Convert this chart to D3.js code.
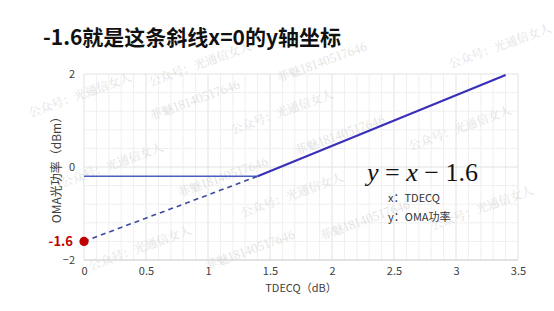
<!DOCTYPE html>
<html><head><meta charset="utf-8">
<script src="https://cdn.jsdelivr.net/npm/d3@7"></script>
<style>
html,body{margin:0;padding:0;background:#fff;}
svg{display:block;}
</style></head>
<body>
<svg id="chart" width="554" height="311"></svg>
<script>
// ---- data ----
const titleText = "-1.6就是这条斜线x=0的y轴坐标";
const xTicks = [0, 0.5, 1, 1.5, 2, 2.5, 3, 3.5];
const yTicks = [-2, 0, 2];
const flatLine = [[0, -0.2], [1.4, -0.2]];
const dashedLine = [[0, -1.6], [1.4, -0.2]];
const slopeLine = [[1.4, -0.2], [3.4, 1.98]];
const interceptPoint = [0, -1.6];
const interceptLabel = "-1.6";
const xLabel = "TDECQ（dB）";
const yLabel = "OMA光功率（dBm）";
const noteLines = ["x：TDECQ", "y：OMA功率"];
const watermarks = [
  ["公众号：光通信女人", 200, 64], ["菲魅18140517646", 322, 62], ["公众号：光通信女人", 500, 46],
  ["公众号：光通信女人", 80, 95], ["菲魅18140517646", 195, 100], ["公众号：光通信女人", 282, 112],
  ["菲魅18140517646", 340, 135], ["公众号：光通信女人", 460, 128], ["公众号：光通信女人", 112, 165],
  ["菲魅18140517646", 223, 177], ["公众号：光通信女人", 292, 195], ["菲魅18140517646", 365, 220],
  ["公众号：光通信女人", 482, 208], ["公众号：光通信女人", 140, 248], ["菲魅18140517646", 250, 250]
];

const svg = d3.select("#chart");
const x = d3.scaleLinear().domain([0, 3.5]).range([84, 518]);
const y = d3.scaleLinear().domain([-2, 2]).range([260, 74]);
const font = "'Noto Sans CJK SC','Noto Sans',sans-serif";

// grid
const g = svg.append("g");
const xMinor = d3.range(0, 36).map(i => i / 10).filter(v => v <= 3.5 + 1e-9);
const yMinor = d3.range(0, 11).map(i => -2 + i * 0.4);
g.selectAll(".vx").data(xMinor).join("line")
  .attr("x1", d => x(d)).attr("x2", d => x(d)).attr("y1", y(-2)).attr("y2", y(2))
  .attr("stroke", d => (Math.abs(d * 2 - Math.round(d * 2)) < 1e-6) ? "#e2e2e2" : "#efefef").attr("stroke-width", 1);
g.selectAll(".hy").data(yMinor).join("line")
  .attr("y1", d => y(d)).attr("y2", d => y(d)).attr("x1", x(0)).attr("x2", x(3.5))
  .attr("stroke", d => (Math.abs(d / 2 - Math.round(d / 2)) < 1e-6) ? "#e2e2e2" : "#efefef").attr("stroke-width", 1);
g.append("line").attr("x1", x(0)).attr("x2", x(3.5)).attr("y1", y(-2)).attr("y2", y(-2)).attr("stroke", "#d4d4d4");

// watermarks
svg.append("g").selectAll("text").data(watermarks).join("text")
  .attr("transform", d => `translate(${d[1]},${d[2]}) rotate(-20)`)
  .attr("text-anchor", "middle").attr("dy", "0.35em")
  .attr("font-family", "'Noto Serif CJK SC','Noto Sans CJK SC',serif").attr("font-size", 12)
  .attr("fill", "#dadada").attr("opacity", 0.8)
  .text(d => d[0]);

// axes
const xAxis = svg.append("g").attr("transform", `translate(0,${y(-2)})`)
  .call(d3.axisBottom(x).tickValues(xTicks).tickSize(0).tickPadding(7).tickFormat(d3.format("")));
const yAxis = svg.append("g").attr("transform", `translate(${x(0)},0)`)
  .call(d3.axisLeft(y).tickValues(yTicks).tickSize(0).tickPadding(9).tickFormat(d3.format("")));
[xAxis, yAxis].forEach(a => {
  a.select(".domain").remove();
  a.selectAll("text").attr("font-family", font).attr("font-size", 11).attr("fill", "#404040");
});

// axis titles
svg.append("text").attr("x", (x(0) + x(3.5)) / 2).attr("y", 292).attr("text-anchor", "middle")
  .attr("font-family", font).attr("font-size", 11).attr("fill", "#404040").text(xLabel);
svg.append("text").attr("transform", `translate(61,${(y(-2) + y(2)) / 2}) rotate(-90)`)
  .attr("text-anchor", "middle").attr("font-family", font).attr("font-size", 12).attr("fill", "#404040").text(yLabel);

// lines
const line = d3.line().x(d => x(d[0])).y(d => y(d[1]));
svg.append("path").datum(flatLine).attr("d", line).attr("fill", "none")
  .attr("stroke", "#4a5ec4").attr("stroke-width", 1.6);
svg.append("path").datum(dashedLine).attr("d", line).attr("fill", "none")
  .attr("stroke", "#3c4a9e").attr("stroke-width", 1.6).attr("stroke-dasharray", "5,4");
svg.append("path").datum(slopeLine).attr("d", line).attr("fill", "none")
  .attr("stroke", "#3a30b8").attr("stroke-width", 2.2);

// intercept point
svg.append("circle").attr("cx", x(interceptPoint[0])).attr("cy", y(interceptPoint[1])).attr("r", 4.6)
  .attr("fill", "#c00000");
svg.append("text").attr("x", x(interceptPoint[0]) - 11).attr("y", y(interceptPoint[1])).attr("dy", "0.36em")
  .attr("text-anchor", "end").attr("font-family", font).attr("font-weight", "bold").attr("font-size", 13)
  .attr("fill", "#c00000").text(interceptLabel);

// equation
const eq = svg.append("text").attr("x", 367).attr("y", 181)
  .attr("font-family", "'Liberation Serif','DejaVu Serif',serif").attr("font-size", 26).attr("fill", "#111");
eq.append("tspan").attr("font-style", "italic").text("y");
eq.append("tspan").text(" = ");
eq.append("tspan").attr("font-style", "italic").text("x");
eq.append("tspan").text(" − 1.6");

svg.append("g").selectAll("text").data(noteLines).join("text")
  .attr("x", 388).attr("y", (d, i) => 202 + i * 19)
  .attr("font-family", font).attr("font-size", 11).attr("fill", "#333").text(d => d);

// title
svg.append("text").attr("x", 43).attr("y", 45).attr("font-family", font).attr("font-weight", "bold")
  .attr("font-size", 21).attr("fill", "#111").text(titleText);
</script>
</body></html>
